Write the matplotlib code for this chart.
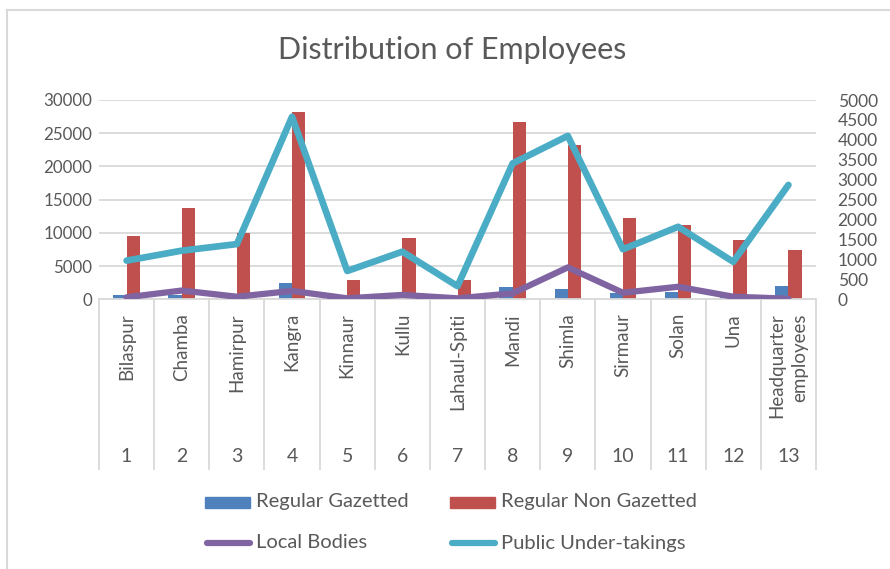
import numpy as np
import matplotlib
matplotlib.use("Agg")
import matplotlib.pyplot as plt
from matplotlib.patches import Rectangle
from matplotlib.lines import Line2D

plt.rcParams['font.family'] = ['Lato', 'DejaVu Sans']

title = "Distribution of Employees"
categories = ['Bilaspur', 'Chamba', 'Hamirpur', 'Kangra', 'Kinnaur', 'Kullu',
              'Lahaul-Spiti', 'Mandi', 'Shimla', 'Sirmaur', 'Solan', 'Una',
              'Headquarter\nemployees']
numbers = [str(i) for i in range(1, 14)]
series_names = ['Regular Gazetted', 'Regular Non Gazetted', 'Local Bodies', 'Public Under-takings']
gazetted = [600, 650, 400, 2400, 250, 550, 200, 1800, 1500, 900, 1150, 400, 2000]
non_gazetted = [9570, 13740, 10030, 28140, 2950, 9270, 2900, 26730, 23180, 12280, 11180, 8925, 7420]
local_bodies = [50, 220, 65, 210, 25, 110, 25, 150, 800, 165, 315, 65, 15]
public_undertakings = [970, 1220, 1385, 4580, 710, 1195, 330, 3410, 4100, 1255, 1820, 940, 2870]
left_ticks = [0, 5000, 10000, 15000, 20000, 25000, 30000]
right_ticks = list(range(0, 5001, 500))

W, H = 890, 569
C_BLUE, C_RED, C_PURPLE, C_TEAL = '#4F81BD', '#C0504D', '#8064A2', '#4BACC6'
TXT = '#595959'
GRID = '#D9D9D9'

fig = plt.figure(figsize=(W / 100, H / 100), dpi=100)

def fx(px):
    return px / W

def fy(py):
    return 1 - py / H

left, right, top, bottom = 99, 816, 100, 299.3
ax = fig.add_axes([fx(left), fy(bottom), fx(right - left), (bottom - top) / H])
x = np.arange(1, len(categories) + 1)
bw = 0.24
ax.bar(x - bw / 2, gazetted, width=bw, color=C_BLUE, zorder=2)
ax.bar(x + bw / 2, non_gazetted, width=bw, color=C_RED, zorder=2)
ax.set_xlim(0.5, len(categories) + 0.5)
ax.set_ylim(0, 30000)
ax.set_yticks(left_ticks)
ax.set_yticklabels([str(t) for t in left_ticks])
ax.set_xticks([])
ax.grid(axis='y', color=GRID, linewidth=1.3, zorder=0)
ax.set_axisbelow(True)
for s in ['top', 'left', 'right']:
    ax.spines[s].set_visible(False)
ax.spines['bottom'].set_color(GRID)
ax.spines['bottom'].set_linewidth(1.3)
ax.tick_params(axis='y', length=0, pad=5, labelsize=12.2, labelcolor=TXT)

ax2 = ax.twinx()
ax2.plot(x, local_bodies, color=C_PURPLE, linewidth=4.5, solid_joinstyle='round',
         solid_capstyle='round', zorder=3)
ax2.plot(x, public_undertakings, color=C_TEAL, linewidth=4.8, solid_joinstyle='round',
         solid_capstyle='round', zorder=4)
ax2.set_ylim(0, 5000)
ax2.set_yticks(right_ticks)
ax2.set_yticklabels([str(t) for t in right_ticks])
for s in ['top', 'left', 'right', 'bottom']:
    ax2.spines[s].set_visible(False)
ax2.tick_params(axis='y', length=0, pad=15.5, labelsize=12.5, labelcolor=TXT)

# category axis (two levels)
trans = ax.get_xaxis_transform()
ybot = -(470 - bottom) / (bottom - top)
ax.vlines(np.arange(0.5, len(categories) + 1), ybot, 0, transform=trans,
          color=GRID, linewidth=1.3, clip_on=False)
yname = -(313 - bottom) / (bottom - top)
ynum = -(457 - bottom) / (bottom - top)
for xi, name, num in zip(x, categories, numbers):
    ax.text(xi, yname, name, transform=trans, rotation=90, ha='center', va='top',
            multialignment='right', fontsize=13.5, color=TXT, linespacing=1.45)
    ax.text(xi, ynum, num, transform=trans, ha='center', va='center',
            fontsize=14, color=TXT)

# title
fig.text(fx(452), fy(50), title, ha='center', va='center', fontsize=22, color=TXT)

# legend (manual)
fs_leg = 14.5
fig.add_artist(Rectangle((fx(205), fy(508)), fx(45), 11 / H, color=C_BLUE))
fig.text(fx(256), fy(502), series_names[0], ha='left', va='center', fontsize=fs_leg, color=TXT)
fig.add_artist(Rectangle((fx(450), fy(508)), fx(45), 11 / H, color=C_RED))
fig.text(fx(501), fy(502), series_names[1], ha='left', va='center', fontsize=fs_leg, color=TXT)
fig.add_artist(Line2D([fx(207), fx(250)], [fy(543), fy(543)], color=C_PURPLE,
                      linewidth=4.5, solid_capstyle='round'))
fig.text(fx(256), fy(543), series_names[2], ha='left', va='center', fontsize=fs_leg, color=TXT)
fig.add_artist(Line2D([fx(452), fx(495)], [fy(543), fy(543)], color=C_TEAL,
                      linewidth=4.5, solid_capstyle='round'))
fig.text(fx(501), fy(543), series_names[3], ha='left', va='center', fontsize=fs_leg, color=TXT)

# chart border
fig.add_artist(Line2D([fx(7), 1], [fy(10), fy(10)], color=GRID, linewidth=1.5))
fig.add_artist(Line2D([fx(7), fx(7)], [fy(10), 0], color=GRID, linewidth=1.5))

fig.savefig('out.png', dpi=100)
